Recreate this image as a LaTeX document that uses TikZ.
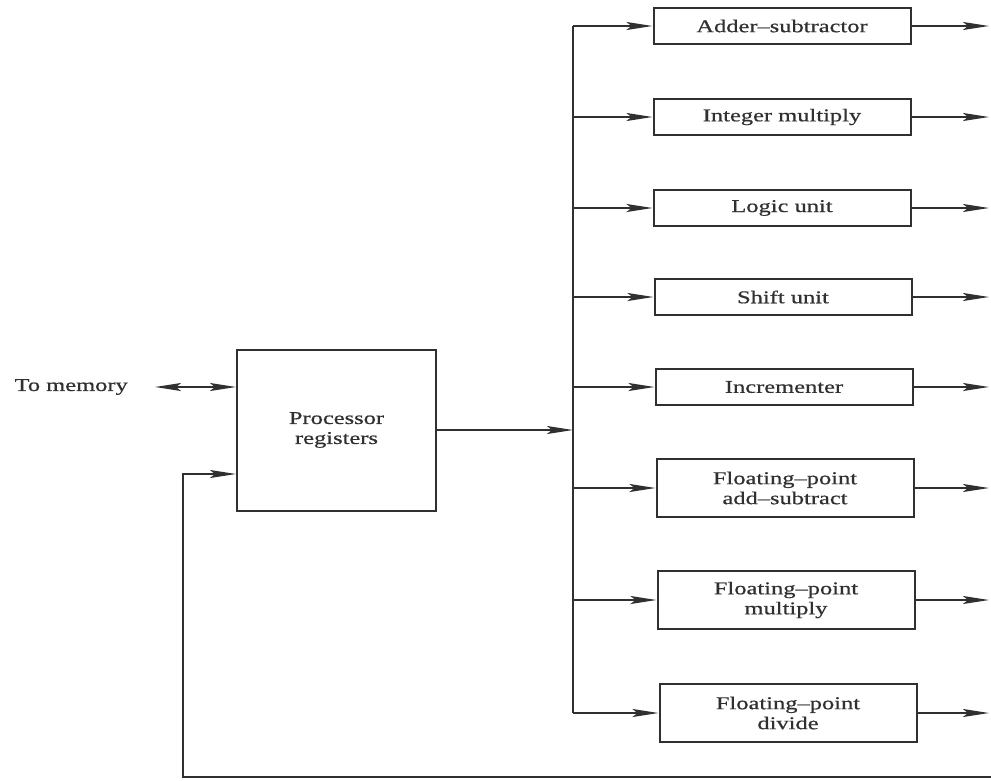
\documentclass[tikz,border=0pt]{standalone}
\usepackage{fontspec}
\setmainfont{Liberation Serif}[FakeStretch=1.36,FakeBold=0.6]
\usetikzlibrary{arrows.meta}
\definecolor{ink}{HTML}{303030}
\begin{document}
\begin{tikzpicture}[x=1pt,y=-1pt,
  lbl/.style={text=ink, font=\fontsize{18}{20}\selectfont, align=center, inner sep=0pt},
  unit/.style={lbl, draw=ink, line width=2pt, minimum width=257pt},
  short/.style={unit, minimum height=36pt},
  tall/.style={unit, minimum height=58pt},
  wire/.style={draw=ink, line width=2pt},
  arr/.style={wire, -{Stealth[length=26pt,width=8pt,inset=5pt]}},
  dbl/.style={wire, {Stealth[length=26pt,width=8pt,inset=5pt]}-{Stealth[length=26pt,width=8pt,inset=5pt]}}
]
\useasboundingbox (0,0) rectangle (991,780);
\fill[white] (0,0) rectangle (991,780);

% functional units
\node[short] (add)   at (782,26)  {Adder--subtractor};
\node[short] (imul)  at (782,117) {Integer multiply};
\node[short] (logic) at (782,208) {Logic unit};
\node[short] (shift) at (783,297) {Shift unit};
\node[short] (inc)   at (784,387) {Incrementer};
\node[tall]  (fadd)  at (785,488) {Floating--point\\add--subtract};
\node[tall]  (fmul)  at (786,600) {Floating--point\\multiply};
\node[tall]  (fdiv)  at (788,713) {Floating--point\\divide};

% register file
\node[unit, minimum width=199pt, minimum height=161pt] (proc) at (336.5,430) {Processor\\registers};
\node[lbl, anchor=east] (mem) at (128,387) {To memory};

% bus and output column
\coordinate (bus) at (573,0);
\coordinate (outx) at (989,0);
\draw[wire] (bus |- add) -- (bus |- fdiv);
\foreach \n in {add,imul,logic,shift,inc,fadd,fmul,fdiv}{
  \draw[arr] (bus |- \n) -- (\n.west);
  \draw[arr] (\n.east) -- (\n.east -| outx);
}
\draw[arr] (proc.east) -- (bus |- proc.east);

% memory port
\path (proc.west) ++(0,-43) coordinate (memin);
\draw[dbl, shorten <=27pt] (mem.east |- memin) -- (memin);

% result feedback to registers
\path (proc.west) ++(0,44) coordinate (fbin);
\coordinate (fbR) at (995,777);
\coordinate (fbL) at (183,777);
\draw[arr] (fbR) -- (fbL) -- (fbL |- fbin) -- (fbin);
\end{tikzpicture}
\end{document}
